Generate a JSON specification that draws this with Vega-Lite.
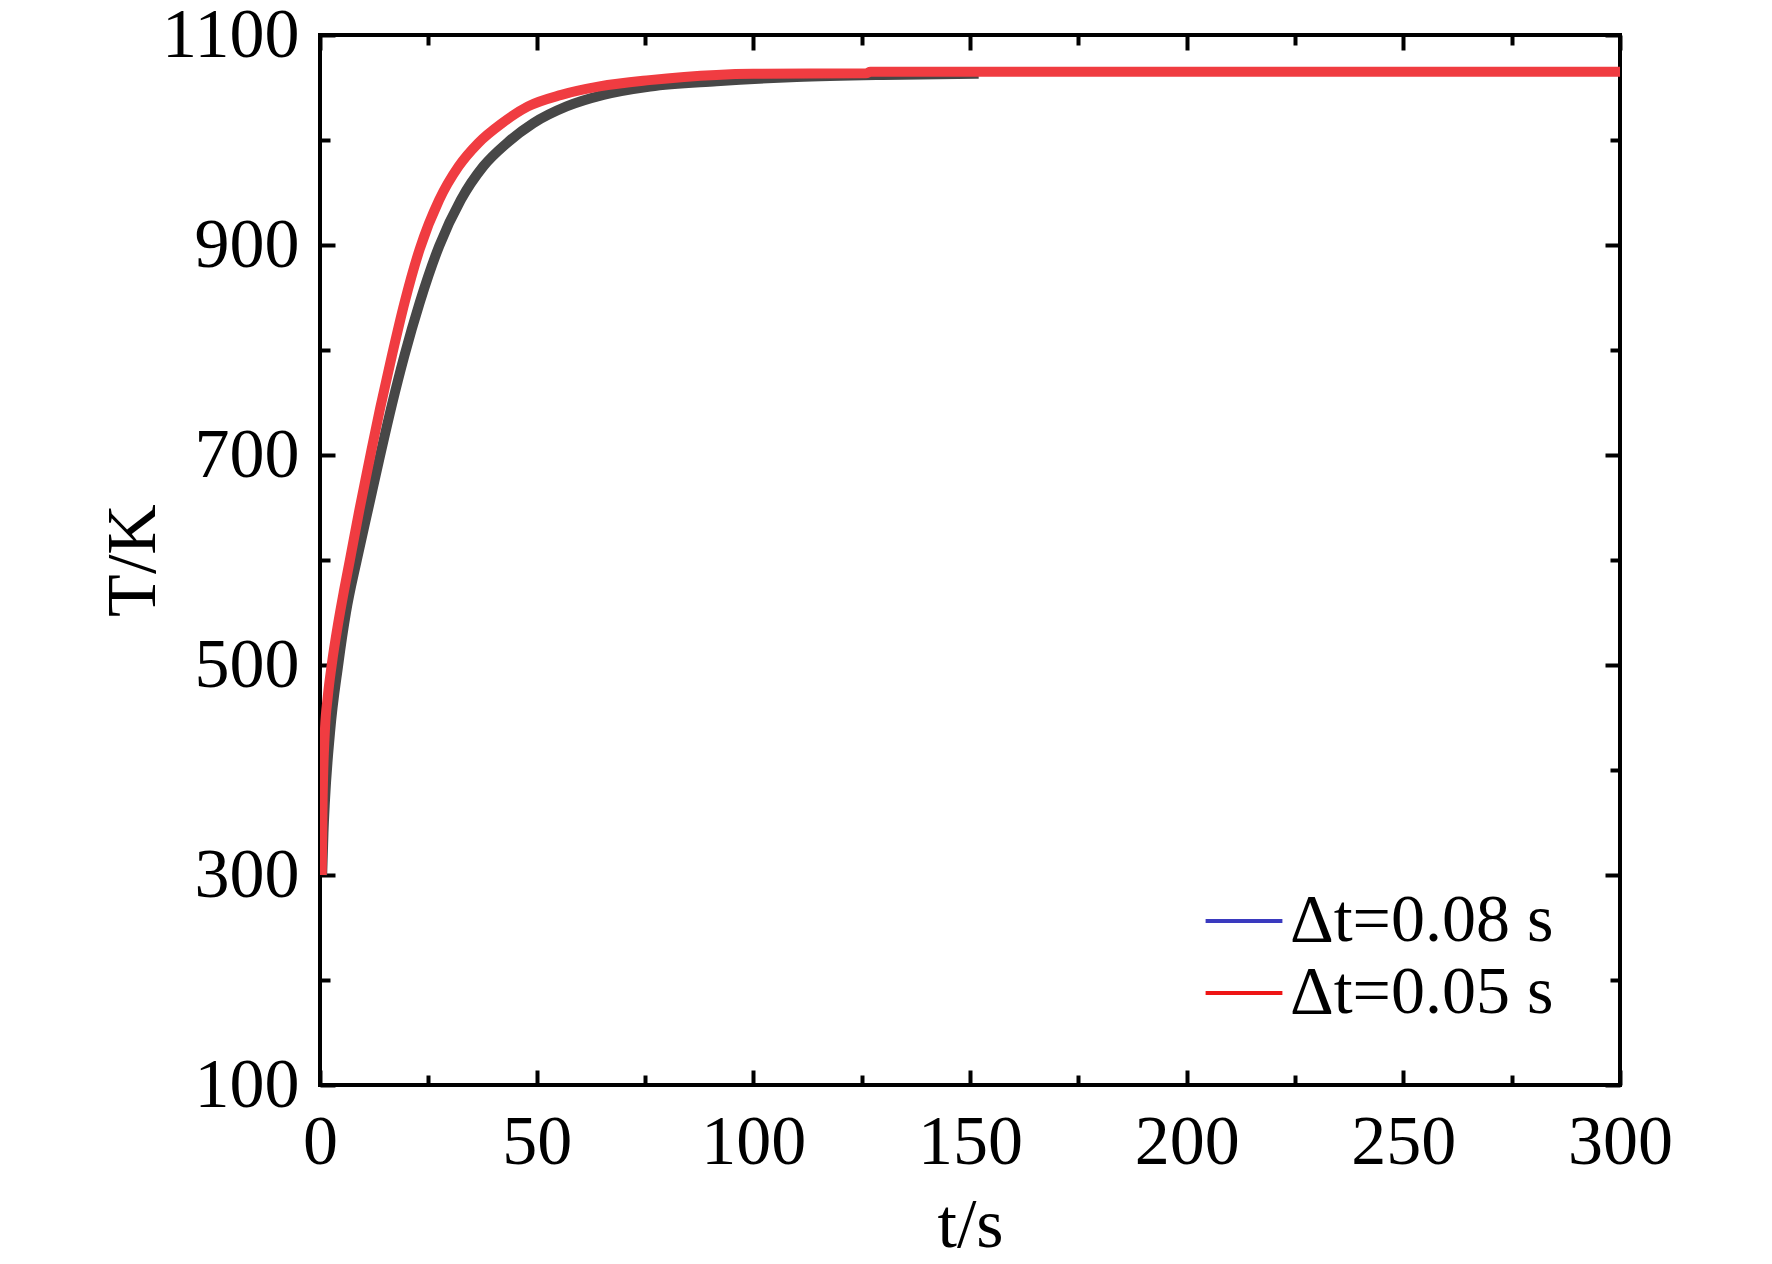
{
  "$schema": "https://vega.github.io/schema/vega-lite/v6.json",
  "autosize": "none",
  "width": 1300,
  "height": 1050,
  "padding": {"left": 320, "top": 35, "right": 152, "bottom": 179},
  "background": "white",
  "data": {
    "values": [
      {"series": "Δt=0.08 s", "t": 0.5, "T": 300},
      {"series": "Δt=0.08 s", "t": 0.8, "T": 340},
      {"series": "Δt=0.08 s", "t": 1.15, "T": 371},
      {"series": "Δt=0.08 s", "t": 2.3, "T": 435},
      {"series": "Δt=0.08 s", "t": 4.2, "T": 500},
      {"series": "Δt=0.08 s", "t": 6.0, "T": 550},
      {"series": "Δt=0.08 s", "t": 8.5, "T": 600},
      {"series": "Δt=0.08 s", "t": 11.3, "T": 652},
      {"series": "Δt=0.08 s", "t": 13.9, "T": 700},
      {"series": "Δt=0.08 s", "t": 16.6, "T": 748},
      {"series": "Δt=0.08 s", "t": 19.5, "T": 795},
      {"series": "Δt=0.08 s", "t": 23.0, "T": 845},
      {"series": "Δt=0.08 s", "t": 27.5, "T": 899},
      {"series": "Δt=0.08 s", "t": 32.5, "T": 943},
      {"series": "Δt=0.08 s", "t": 37.7, "T": 975},
      {"series": "Δt=0.08 s", "t": 43.1, "T": 997},
      {"series": "Δt=0.08 s", "t": 49.2, "T": 1016},
      {"series": "Δt=0.08 s", "t": 56.9, "T": 1032},
      {"series": "Δt=0.08 s", "t": 65.4, "T": 1043},
      {"series": "Δt=0.08 s", "t": 76.2, "T": 1051},
      {"series": "Δt=0.08 s", "t": 91.5, "T": 1056},
      {"series": "Δt=0.08 s", "t": 110, "T": 1060},
      {"series": "Δt=0.08 s", "t": 130, "T": 1062},
      {"series": "Δt=0.08 s", "t": 152, "T": 1063},
      {"series": "Δt=0.05 s", "t": 0.4, "T": 300},
      {"series": "Δt=0.05 s", "t": 0.6, "T": 370},
      {"series": "Δt=0.05 s", "t": 1.1, "T": 435},
      {"series": "Δt=0.05 s", "t": 1.8, "T": 470},
      {"series": "Δt=0.05 s", "t": 2.7, "T": 500},
      {"series": "Δt=0.05 s", "t": 4.2, "T": 540},
      {"series": "Δt=0.05 s", "t": 5.5, "T": 570},
      {"series": "Δt=0.05 s", "t": 6.9, "T": 600},
      {"series": "Δt=0.05 s", "t": 9.1, "T": 648},
      {"series": "Δt=0.05 s", "t": 11.4, "T": 695},
      {"series": "Δt=0.05 s", "t": 13.9, "T": 745},
      {"series": "Δt=0.05 s", "t": 16.5, "T": 793},
      {"series": "Δt=0.05 s", "t": 19.5, "T": 845},
      {"series": "Δt=0.05 s", "t": 23.0, "T": 896},
      {"series": "Δt=0.05 s", "t": 27.5, "T": 943},
      {"series": "Δt=0.05 s", "t": 32.0, "T": 975},
      {"series": "Δt=0.05 s", "t": 36.5, "T": 997},
      {"series": "Δt=0.05 s", "t": 42.0, "T": 1016},
      {"series": "Δt=0.05 s", "t": 48.0, "T": 1032},
      {"series": "Δt=0.05 s", "t": 55.7, "T": 1043},
      {"series": "Δt=0.05 s", "t": 64.5, "T": 1051},
      {"series": "Δt=0.05 s", "t": 76.0, "T": 1057},
      {"series": "Δt=0.05 s", "t": 91.5, "T": 1062},
      {"series": "Δt=0.05 s", "t": 100, "T": 1063},
      {"series": "Δt=0.05 s", "t": 126, "T": 1063.5},
      {"series": "Δt=0.05 s", "t": 127, "T": 1065},
      {"series": "Δt=0.05 s", "t": 300, "T": 1065}
    ]
  },
  "layer": [
    {
      "transform": [{"filter": "datum.series === 'Δt=0.08 s'"}],
      "mark": {"type": "line", "color": "#474747", "strokeWidth": 10, "interpolate": "monotone", "clip": true},
      "encoding": {
        "x": {
          "field": "t", "type": "quantitative",
          "scale": {"domain": [0, 300], "nice": false, "zero": false},
          "axis": {"orient": "bottom", "values": [0, 50, 100, 150, 200, 250, 300], "format": "d", "tickSize": -15, "labelPadding": 38, "title": "t/s", "titlePadding": 14}
        },
        "y": {
          "field": "T", "type": "quantitative",
          "scale": {"domain": [100, 1100], "nice": false, "zero": false},
          "axis": {"orient": "left", "values": [100, 300, 500, 700, 900, 1100], "format": "d", "tickSize": -15, "labelPadding": 36, "title": "T/K", "titlePadding": -8}
        }
      }
    },
    {
      "transform": [{"filter": "datum.series === 'Δt=0.05 s'"}],
      "mark": {"type": "line", "color": "#f03c41", "strokeWidth": 10, "interpolate": "monotone", "clip": true},
      "encoding": {
        "x": {"field": "t", "type": "quantitative", "axis": null},
        "y": {"field": "T", "type": "quantitative", "axis": null}
      }
    },
    {
      "mark": {"type": "line", "opacity": 0},
      "encoding": {
        "x": {"field": "t", "type": "quantitative", "axis": null},
        "y": {"field": "T", "type": "quantitative", "axis": null},
        "color": {
          "field": "series", "type": "nominal",
          "scale": {"domain": ["Δt=0.08 s", "Δt=0.05 s"], "range": ["#3a3abf", "#ee1515"]},
          "legend": {"title": null}
        }
      }
    },
    {
      "mark": {"type": "line", "opacity": 0},
      "encoding": {
        "x": {
          "field": "t", "type": "quantitative",
          "axis": {"orient": "bottom", "values": [25, 75, 125, 175, 225, 275], "tickSize": -10, "labels": false, "title": null}
        },
        "y": {
          "field": "T", "type": "quantitative",
          "axis": {"orient": "left", "values": [200, 400, 600, 800, 1000], "tickSize": -10, "labels": false, "title": null}
        }
      }
    },
    {
      "mark": {"type": "line", "opacity": 0},
      "encoding": {
        "x": {
          "field": "t", "type": "quantitative",
          "axis": {"orient": "top", "values": [0, 50, 100, 150, 200, 250, 300], "tickSize": -15, "labels": false, "title": null}
        },
        "y": {
          "field": "T", "type": "quantitative",
          "axis": {"orient": "right", "values": [100, 300, 500, 700, 900, 1100], "tickSize": -15, "labels": false, "title": null}
        }
      }
    },
    {
      "mark": {"type": "line", "opacity": 0},
      "encoding": {
        "x": {
          "field": "t", "type": "quantitative",
          "axis": {"orient": "top", "values": [25, 75, 125, 175, 225, 275], "tickSize": -10, "labels": false, "title": null}
        },
        "y": {
          "field": "T", "type": "quantitative",
          "axis": {"orient": "right", "values": [200, 400, 600, 800, 1000], "tickSize": -10, "labels": false, "title": null}
        }
      }
    }
  ],
  "resolve": {"axis": {"x": "independent", "y": "independent"}},
  "config": {
    "view": {"stroke": "black", "strokeWidth": 4},
    "axis": {
      "domain": false,
      "grid": false,
      "tickColor": "black",
      "tickWidth": 4,
      "labelFont": "Liberation Serif",
      "labelFontSize": 70,
      "labelColor": "black",
      "labelFlush": false,
      "labelOverlap": false,
      "labelBound": false,
      "titleFont": "Liberation Serif",
      "titleFontSize": 70,
      "titleFontWeight": "normal",
      "titleColor": "black"
    },
    "legend": {
      "orient": "none",
      "legendX": 890,
      "legendY": 852,
      "padding": 0,
      "labelFont": "Liberation Serif",
      "labelFontSize": 68,
      "labelColor": "black",
      "labelLimit": 0,
      "symbolType": "M-1.2,0H1.2",
      "symbolSize": 4096,
      "symbolStrokeWidth": 4,
      "symbolOpacity": 1,
      "rowPadding": 4,
      "labelOffset": 12
    }
  }
}
